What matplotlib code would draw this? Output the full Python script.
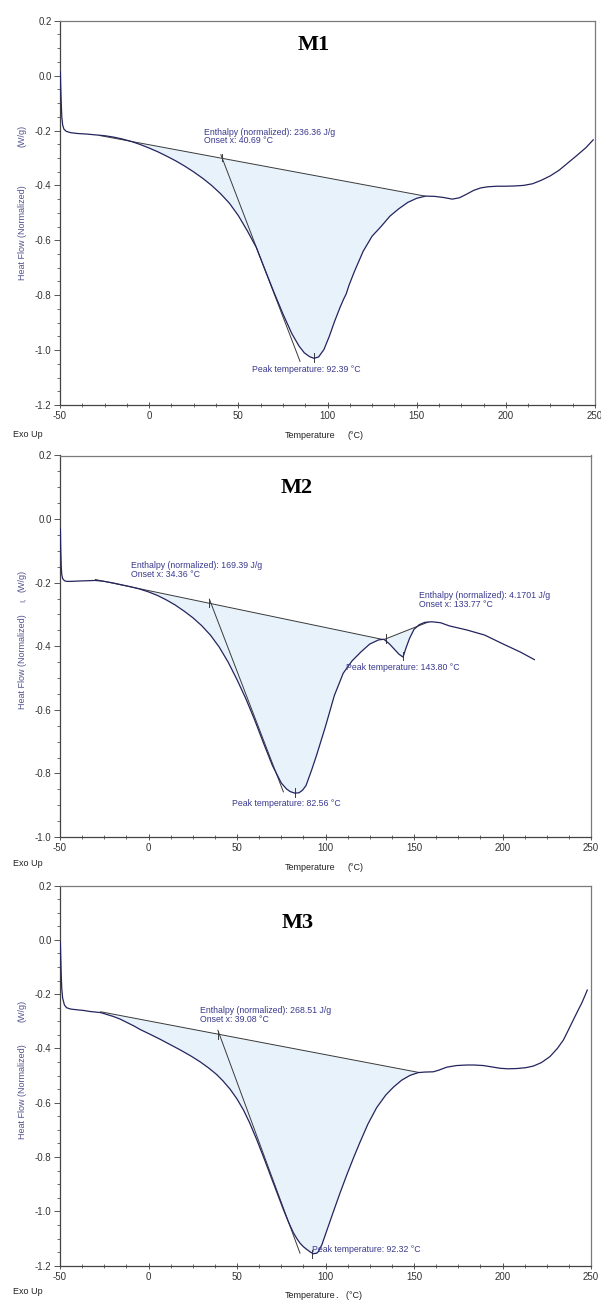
import matplotlib
matplotlib.use("Agg")
import matplotlib.pyplot as plt
from matplotlib.ticker import MultipleLocator, FormatStrFormatter

plt.rcParams['font.family'] = ['Liberation Sans', 'DejaVu Sans']
plt.rcParams['axes.unicode_minus'] = False

# ---------------- M1 ----------------
m1_temp = [-49.8, -49.6, -49.3, -49.0, -48.5, -47.8, -46.5, -44, -40, -35, -30, -25, -20,
           -15, -10, -5, 0, 5, 10, 15, 20, 25, 30, 35, 40, 45, 50, 55, 60, 65, 70, 75,
           80, 84, 87, 90, 92.4, 95, 98, 101, 104, 107, 109, 110.5, 112, 115, 120, 125,
           130, 135, 140, 145, 150, 155, 160, 165, 170, 174, 178, 182, 186, 190, 195,
           200, 205, 210, 215, 220, 225, 230, 235, 240, 245, 249]
m1_flow = [0.014, -0.04, -0.10, -0.15, -0.18, -0.195, -0.203, -0.208, -0.211, -0.213,
           -0.216, -0.219, -0.224, -0.231, -0.240, -0.251, -0.264, -0.278, -0.294,
           -0.311, -0.330, -0.351, -0.374, -0.400, -0.430, -0.465, -0.510, -0.565,
           -0.625, -0.708, -0.790, -0.868, -0.940, -0.985, -1.010, -1.024, -1.030,
           -1.025, -0.998, -0.950, -0.895, -0.845, -0.815, -0.795, -0.765, -0.715,
           -0.640, -0.585, -0.550, -0.512, -0.485, -0.462, -0.447, -0.439, -0.440,
           -0.444, -0.450, -0.445, -0.432, -0.418, -0.409, -0.405, -0.403, -0.403,
           -0.402, -0.400, -0.394, -0.381, -0.365, -0.344, -0.317, -0.290, -0.262, -0.234]
m1_base_t = [[-28.0, 154.7]]
m1_base_f = [[-0.218, -0.439]]
m1_tan_t = [40.2, 84.6]
m1_tan_f = [-0.288, -1.041]
m1_marks = [(40.69, -0.287, -0.311), (92.39, -1.012, -1.044)]
m1_notes = [(30.7, -0.190, "Enthalpy (normalized): 236.36 J/g\nOnset x: 40.69 °C", 'top'),
            (57.5, -1.072, "Peak temperature: 92.39 °C", 'center')]

# ---------------- M2 ----------------
m2_temp = [-49.8, -49.6, -49.3, -49.0, -48.5, -47.5, -46, -44, -40, -35, -30, -25, -20,
           -15, -10, -5, 0, 5, 10, 15, 20, 25, 30, 35, 40, 45, 50, 55, 60, 65, 70, 75,
           78, 80, 82.6, 85, 87, 89, 92, 95, 100, 105, 110, 115, 120, 125, 130, 133,
           136, 139, 141.5, 143.8, 145.5, 147.5, 150, 153, 156, 160, 165, 170, 180,
           190, 200, 210, 218]
m2_flow = [-0.029, -0.09, -0.15, -0.175, -0.187, -0.194, -0.196, -0.196, -0.195, -0.194,
           -0.193, -0.196, -0.201, -0.207, -0.213, -0.220, -0.229, -0.240, -0.254,
           -0.270, -0.289, -0.310, -0.335, -0.365, -0.403, -0.450, -0.505, -0.565,
           -0.632, -0.705, -0.775, -0.830, -0.849, -0.857, -0.862, -0.861, -0.853,
           -0.838, -0.792, -0.742, -0.652, -0.555, -0.485, -0.446, -0.418, -0.393,
           -0.380, -0.378, -0.392, -0.410, -0.425, -0.434, -0.405, -0.375, -0.347,
           -0.332, -0.325, -0.323, -0.326, -0.336, -0.349, -0.365, -0.392, -0.418, -0.442]
m2_base_t = [[-30.0, 131.8], [133.0, 158.0]]
m2_base_f = [[-0.190, -0.378], [-0.379, -0.324]]
m2_tan_t = [34.4, 76.2]
m2_tan_f = [-0.252, -0.858]
m2_marks = [(34.36, -0.252, -0.278), (82.56, -0.847, -0.873),
            (134.2, -0.362, -0.391), (143.8, -0.417, -0.443)]
m2_notes = [(-9.9, -0.132, "Enthalpy (normalized): 169.39 J/g\nOnset x: 34.36 °C", 'top'),
            (153.0, -0.226, "Enthalpy (normalized): 4.1701 J/g\nOnset x: 133.77 °C", 'top'),
            (47.3, -0.896, "Peak temperature: 82.56 °C", 'center'),
            (111.4, -0.467, "Peak temperature: 143.80 °C", 'center')]

# ---------------- M3 ----------------
m3_temp = [-49.8, -49.6, -49.3, -49.0, -48.5, -47.5, -46.3, -44, -40, -36.8, -33, -30,
           -27, -24, -20, -16, -12, -8, -4.8, 0, 6.5, 12, 17.8, 24, 29.1, 34, 38.5, 42,
           46.1, 50, 53.6, 57, 61.1, 65, 68.7, 72, 76.2, 79, 81.8, 84, 85.6, 87.5, 89.4,
           91.5, 93.1, 95, 96, 98, 99.7, 102, 104.4, 108, 112, 116, 119.5, 124, 128.9,
           134, 138.3, 143, 147.8, 152.4, 156, 160.9, 164, 168.5, 174, 179.8, 184,
           189.2, 194, 198.6, 203, 208, 213, 217.4, 222, 226.8, 231, 234.4, 237, 240,
           242.5, 244.7, 246.5, 247.9]
m3_flow = [-0.007, -0.06, -0.13, -0.18, -0.215, -0.240, -0.250, -0.255, -0.258, -0.260,
           -0.264, -0.266, -0.268, -0.274, -0.282, -0.292, -0.305, -0.318, -0.330,
           -0.345, -0.366, -0.385, -0.405, -0.428, -0.449, -0.472, -0.496, -0.519,
           -0.550, -0.586, -0.626, -0.672, -0.735, -0.800, -0.864, -0.921, -0.993,
           -1.038, -1.078, -1.102, -1.117, -1.130, -1.140, -1.150, -1.156, -1.154,
           -1.148, -1.122, -1.090, -1.047, -1.002, -0.936, -0.866, -0.800, -0.745,
           -0.678, -0.618, -0.572, -0.543, -0.517, -0.499, -0.489, -0.487, -0.486,
           -0.480, -0.469, -0.463, -0.461, -0.461, -0.463, -0.468, -0.473, -0.475,
           -0.474, -0.471, -0.465, -0.452, -0.430, -0.400, -0.369, -0.335, -0.295,
           -0.262, -0.234, -0.207, -0.185]
m3_base_t = [[-27.0, 152.4]]
m3_base_f = [[-0.265, -0.488]]
m3_tan_t = [39.2, 85.6]
m3_tan_f = [-0.333, -1.154]
m3_marks = [(39.08, -0.336, -0.364), (92.32, -1.143, -1.171)]
m3_notes = [(29.1, -0.244, "Enthalpy (normalized): 268.51 J/g\nOnset x: 39.08 °C", 'top'),
            (92.2, -1.140, "Peak temperature: 92.32 °C", 'center')]

CURVE = '#24245e'
GREY = '#3a3a3a'
FILL = '#e8f2fb'
NOTE = '#3a3a8e'
YLAB = '#52528f'
FRAME = '#7a7a7a'


def draw_panel(rect, temp, flow, base_t, base_f, tan_t, tan_f, marks, notes,
               ymin, title, title_xy, ylab_pos, extra):
    ax = fig.add_axes(rect)
    # shaded integration areas, closed by the straight baseline
    for bt, bf in zip(base_t, base_f):
        xs = [bt[0]] + [t for t in temp if bt[0] < t < bt[1]] + [bt[1]]
        ys = [bf[0]] + [f for t, f in zip(temp, flow) if bt[0] < t < bt[1]] + [bf[1]]
        ax.fill(xs, ys, color=FILL, lw=0, zorder=1)
        ax.plot(bt, bf, color=GREY, lw=0.7, zorder=2)
    ax.plot(tan_t, tan_f, color=GREY, lw=0.7, zorder=2)
    for x, y0, y1 in marks:
        ax.plot([x, x], [y0, y1], color=GREY, lw=0.7, zorder=3)
    ax.plot(temp, flow, color=CURVE, lw=0.9, zorder=4, solid_joinstyle='round')

    for x, y, s, va in notes:
        ax.text(x, y, s, color=NOTE, fontsize=6.3, va=va, ha='left',
                linespacing=0.95, zorder=5)
    ax.text(title_xy[0], title_xy[1], title, fontsize=16, fontweight='bold',
            family='Liberation Serif', ha='center', va='center')

    ax.set_xlim(-50, 250)
    ax.set_ylim(ymin, 0.2)
    ax.xaxis.set_major_locator(MultipleLocator(50))
    ax.xaxis.set_minor_locator(MultipleLocator(12.5))
    ax.yaxis.set_major_locator(MultipleLocator(0.2))
    ax.yaxis.set_minor_locator(MultipleLocator(0.05))
    ax.yaxis.set_major_formatter(FormatStrFormatter('%.1f'))
    ax.tick_params(axis='x', which='major', direction='inout', length=5, width=0.7,
                   color='#555555', labelsize=7, labelcolor='#333333', pad=2)
    ax.tick_params(axis='x', which='minor', direction='inout', length=3, width=0.6,
                   color='#555555')
    ax.tick_params(axis='y', which='major', direction='out', length=4, width=0.7,
                   color='#555555', labelsize=7, labelcolor='#333333', pad=2)
    ax.tick_params(axis='y', which='minor', direction='out', length=2, width=0.6,
                   color='#555555')
    for side in ['top', 'right']:
        ax.spines[side].set_color(FRAME)
        ax.spines[side].set_linewidth(0.9)
    for side in ['left', 'bottom']:
        ax.spines[side].set_color('#444444')
        ax.spines[side].set_linewidth(0.9)

    ax.text(-0.071, ylab_pos[0], "Heat Flow (Normalized)", transform=ax.transAxes,
            rotation=90, ha='center', va='center', fontsize=6.5, color=YLAB)
    ax.text(-0.071, ylab_pos[1], "(W/g)", transform=ax.transAxes,
            rotation=90, ha='center', va='center', fontsize=6.5, color=YLAB)
    if extra:
        ax.text(-0.071, ylab_pos[2], extra, transform=ax.transAxes,
                rotation=90, ha='center', va='center', fontsize=5.5, color=YLAB)
    return ax


def px(x, y):
    return x / 601.0, 1 - y / 1300.0


fig = plt.figure(figsize=(6.01, 13.0), dpi=100)

draw_panel([60 / 601, 1 - 405 / 1300, 535 / 601, 384.3 / 1300],
           m1_temp, m1_flow, m1_base_t, m1_base_f, m1_tan_t, m1_tan_f, m1_marks,
           m1_notes, -1.2, 'M1', (92.1, 0.111), (0.449, 0.701), None)
draw_panel([60 / 601, 1 - 837 / 1300, 531 / 601, 381.5 / 1300],
           m2_temp, m2_flow, m2_base_t, m2_base_f, m2_tan_t, m2_tan_f, m2_marks,
           m2_notes, -1.0, 'M2', (83.9, 0.098), (0.4595, 0.671, 0.621), 'I,')
draw_panel([60 / 601, 1 - 1265.7 / 1300, 531 / 601, 380.2 / 1300],
           m3_temp, m3_flow, m3_base_t, m3_base_f, m3_tan_t, m3_tan_f, m3_marks,
           m3_notes, -1.2, 'M3', (84.5, 0.062), (0.4577, 0.670), None)

# footer labels under each panel
for ey, ty, unit in [(434, 436, "(°C)"), (864, 867, "(°C)"), (1292, 1295, ".   (°C)")]:
    fig.text(*px(13, ey), "Exo Up", fontsize=6.5, color='#222222', va='center')
    fig.text(*px(285, ty), "Temperature", fontsize=6.5, color='#222222', va='center')
    fig.text(*px(348 if unit == "(°C)" else 336, ty), unit, fontsize=6.5,
             color='#222222', va='center')

fig.savefig('out.png', dpi=100)
